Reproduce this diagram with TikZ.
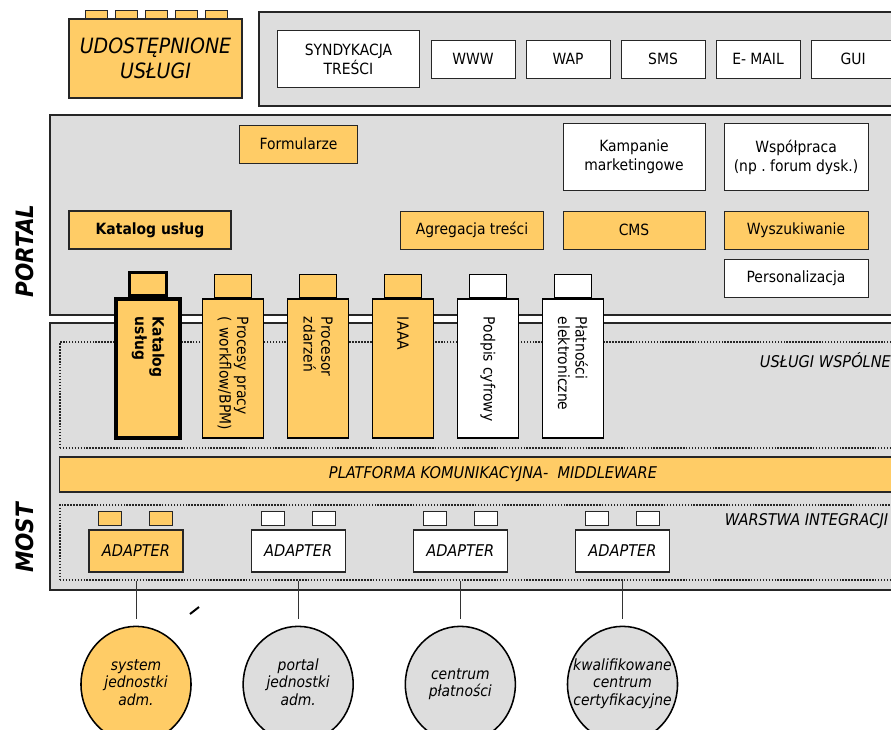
\documentclass[tikz,border=0pt]{standalone}
\usepackage{fontspec}
\setmainfont{DejaVu Sans Condensed}[
  BoldFont={DejaVu Sans Condensed Bold},
  ItalicFont={DejaVu Sans Condensed Oblique},
  BoldItalicFont={DejaVu Sans Condensed Bold Oblique}]
\usepackage{xcolor}
\usepackage{tikz}
\usetikzlibrary{positioning,shapes.geometric}
\definecolor{svcYellow}{RGB}{255,204,102}
\definecolor{panelGray}{RGB}{221,221,221}
\newcommand{\ovalText}[1]{\makebox[0pt]{\begin{tabular}{@{}c@{}}#1\end{tabular}}}
\tikzset{
  layerPanel/.style={
    rectangle,
    draw=black!85,
    line width=1.6pt,
    fill=panelGray,
    inner sep=0pt
  },
  zoneFrame/.style={
    rectangle,
    draw=black!85,
    densely dotted,
    line width=1.1pt,
    inner sep=0pt
  },
  plainBox/.style={
    rectangle,
    draw=black!85,
    fill=white,
    line width=0.7pt,
    minimum height=0.95cm,
    align=center,
    font=\fontsize{11}{13.5}\selectfont
  },
  featureBox/.style={
    plainBox,
    fill=svcYellow
  },
  tokenBody/.style={
    rectangle,
    draw=black,
    fill=svcYellow,
    line width=0.9pt,
    rotate=-90,
    minimum height=1.525cm,
    text width=2.575cm,
    inner xsep=0.45cm,
    align=left,
    font=\fontsize{11}{12.5}\selectfont
  },
  tokenTab/.style={
    rectangle,
    draw=black,
    fill=svcYellow,
    line width=0.9pt,
    minimum width=0.925cm,
    minimum height=0.575cm,
    inner sep=0pt,
    anchor=south
  },
  adapterBox/.style={
    rectangle,
    draw=black!85,
    fill=white,
    line width=0.8pt,
    minimum width=2.35cm,
    minimum height=1.05cm,
    font=\itshape\fontsize{11.5}{13}\selectfont
  },
  adapterTab/.style={
    rectangle,
    draw=black!85,
    fill=white,
    line width=0.7pt,
    minimum width=0.575cm,
    minimum height=0.35cm,
    inner sep=0pt,
    anchor=south west
  },
  endSystem/.style={
    ellipse,
    draw=black,
    fill=panelGray,
    line width=1.1pt,
    minimum width=2.75cm,
    minimum height=2.9cm,
    inner sep=0pt,
    font=\itshape\fontsize{11}{12.5}\selectfont
  },
  linkLine/.style={
    draw=black!80,
    line width=0.6pt,
    shorten <=0.2cm,
    shorten >=0.175cm
  },
  layerLabel/.style={
    rotate=90,
    font=\bfseries\itshape\fontsize{17}{20}\selectfont
  },
  zoneLabel/.style={
    anchor=west,
    font=\itshape\fontsize{11.5}{13}\selectfont
  }
}

\begin{document}
\begin{tikzpicture}[x=0.025cm, y=-0.025cm]
    \useasboundingbox (0,0) rectangle (891,729);
    \clip (0,0) rectangle (891,729);

    % layers
    \node[layerPanel, minimum width=16.675cm, minimum height=2.35cm] (chanPanel) at (592.5,59) {};
    \node[layerPanel, minimum width=21.9cm, minimum height=5cm] (portalPanel) at (488,215) {};
    \node[layerPanel, minimum width=21.9cm, minimum height=6.675cm] (mostPanel) at (488,456.5) {};
    \node[zoneFrame, minimum width=21.65cm, minimum height=2.65cm] (sharedZone) at (493,395) {};
    \node[zoneFrame, minimum width=21.65cm, minimum height=1.875cm] (integZone) at (493,542.5) {};

    \node[layerLabel] (portalLbl) at (25,251) {PORTAL};
    \node[layerLabel] (mostLbl) at (25,538) {MOST};
    \node[zoneLabel] (sharedLbl) at (755,360) {USŁUGI WSPÓLNE};
    \node[zoneLabel] (integLbl) at (720,521) {WARSTWA INTEGRACJI};

    % udostepnione uslugi
    \node[adapterTab, fill=svcYellow, minimum width=0.55cm, minimum height=0.2cm, anchor=south] (udTab1) at (96,19) {};
    \node[adapterTab, fill=svcYellow, minimum width=0.55cm, minimum height=0.2cm, anchor=south] (udTab2) at (126,19) {};
    \node[adapterTab, fill=svcYellow, minimum width=0.55cm, minimum height=0.2cm, anchor=south] (udTab3) at (156,19) {};
    \node[adapterTab, fill=svcYellow, minimum width=0.55cm, minimum height=0.2cm, anchor=south] (udTab4) at (186,19) {};
    \node[adapterTab, fill=svcYellow, minimum width=0.55cm, minimum height=0.2cm, anchor=south] (udTab5) at (216,19) {};
    \node[featureBox, line width=1.5pt, minimum width=4.325cm, minimum height=1.975cm,
          font=\itshape\fontsize{15}{18}\selectfont] (udost) at (155.5,58.5) {UDOSTĘPNIONE\\USŁUGI};

    % kanaly
    \node[plainBox, minimum width=3.525cm, minimum height=1.4cm] (synd) at (348.5,59) {SYNDYKACJA\\TREŚCI};
    \node[plainBox, minimum width=2.1cm, right=0.275cm of synd] (www) {WWW};
    \node[plainBox, minimum width=2.1cm, right=0.25cm of www] (wap) {WAP};
    \node[plainBox, minimum width=2.1cm, right=0.25cm of wap] (sms) {SMS};
    \node[plainBox, minimum width=2.1cm, right=0.25cm of sms] (email) {E- MAIL};
    \node[plainBox, minimum width=2.1cm, right=0.25cm of email] (gui) {GUI};

    % portal
    \node[featureBox, minimum width=2.925cm] (form) at (298.5,144) {Formularze};
    \node[featureBox, line width=1.8pt, minimum width=4.05cm,
          font=\bfseries\fontsize{11}{13}\selectfont] (katalog) at (150,230) {Katalog usług};
    \node[featureBox, minimum width=3.55cm] (agreg) at (472,230) {Agregacja treści};
    \node[featureBox, minimum width=3.55cm, right=0.475cm of agreg] (cms) {CMS};
    \node[featureBox, minimum width=3.6cm, right=0.45cm of cms] (wyszuk) {Wyszukiwanie};
    \node[plainBox, minimum width=3.6cm, below=0.225cm of wyszuk] (person) {Personalizacja};
    \node[plainBox, minimum width=3.55cm, minimum height=1.65cm, above=0.5cm of cms] (kamp) {Kampanie\\marketingowe};
    \node[plainBox, minimum width=3.6cm, minimum height=1.65cm, above=0.5cm of wyszuk] (wspol) {Współpraca\\(np~.~forum~dysk.)};

    % uslugi wspolne
    \node[tokenBody, line width=2.2pt, minimum height=1.6cm,
          font=\bfseries\fontsize{11}{12.5}\selectfont] (tokKatalog) at (148,368.5) {Katalog\\usług};
    \node[tokenTab, line width=2.2pt] (tabKatalog) at (tokKatalog.west) {};
    \node[tokenBody] (tokProcesy) at (233,368.5) {\mbox{Procesy pracy}\\\mbox{( workflow/BPM)}};
    \node[tokenTab] (tabProcesy) at (tokProcesy.west) {};
    \node[tokenBody] (tokZdarzen) at (318,368.5) {Procesor\\zdarzeń};
    \node[tokenTab] (tabZdarzen) at (tokZdarzen.west) {};
    \node[tokenBody] (tokIaaa) at (403,368.5) {IAAA};
    \node[tokenTab] (tabIaaa) at (tokIaaa.west) {};
    \node[tokenBody, fill=white] (tokPodpis) at (488,368.5) {\mbox{Podpis cyfrowy}};
    \node[tokenTab, fill=white] (tabPodpis) at (tokPodpis.west) {};
    \node[tokenBody, fill=white] (tokPlatn) at (573,368.5) {Płatności\\elektroniczne};
    \node[tokenTab, fill=white] (tabPlatn) at (tokPlatn.west) {};

    \node[featureBox, minimum width=21.65cm, minimum height=0.875cm, line width=0.8pt,
          font=\itshape\fontsize{11.5}{13}\selectfont] (platform) at (493,474.5) {PLATFORMA KOMUNIKACYJNA- \ MIDDLEWARE};

    % warstwa integracji
    \node[adapterBox, fill=svcYellow] (ad1) at (136,551) {ADAPTER};
    \node[adapterBox, right=1.675cm of ad1] (ad2) {ADAPTER};
    \node[adapterBox, right=1.675cm of ad2] (ad3) {ADAPTER};
    \node[adapterBox, right=1.675cm of ad3] (ad4) {ADAPTER};
    \node[adapterTab, fill=svcYellow] (ad1TabA) at ([shift={(10,-3)}]ad1.north west) {};
    \node[adapterTab, fill=svcYellow] (ad1TabB) at ([shift={(61,-3)}]ad1.north west) {};
    \node[adapterTab] (ad2TabA) at ([shift={(10,-3)}]ad2.north west) {};
    \node[adapterTab] (ad2TabB) at ([shift={(61,-3)}]ad2.north west) {};
    \node[adapterTab] (ad3TabA) at ([shift={(10,-3)}]ad3.north west) {};
    \node[adapterTab] (ad3TabB) at ([shift={(61,-3)}]ad3.north west) {};
    \node[adapterTab] (ad4TabA) at ([shift={(10,-3)}]ad4.north west) {};
    \node[adapterTab] (ad4TabB) at ([shift={(61,-3)}]ad4.north west) {};

    % systemy zewnetrzne
    \node[endSystem, fill=svcYellow, below=1.325cm of ad1] (sys1) {\ovalText{system\\jednostki\\adm.}};
    \node[endSystem, below=1.325cm of ad2] (sys2) {\ovalText{portal\\jednostki\\adm.}};
    \node[endSystem, below=1.325cm of ad3] (sys3) {\ovalText{centrum\\płatności}};
    \node[endSystem, below=1.325cm of ad4] (sys4) {\ovalText{kwalifikowane\\centrum\\certyfikacyjne}};

    \draw[linkLine] (ad1) -- (sys1);
    \draw[linkLine] (ad2) -- (sys2);
    \draw[linkLine] (ad3) -- (sys3);
    \draw[linkLine] (ad4) -- (sys4);

    \draw[line width=1.4pt] (190,614) -- (199,607);
\end{tikzpicture}
\end{document}
